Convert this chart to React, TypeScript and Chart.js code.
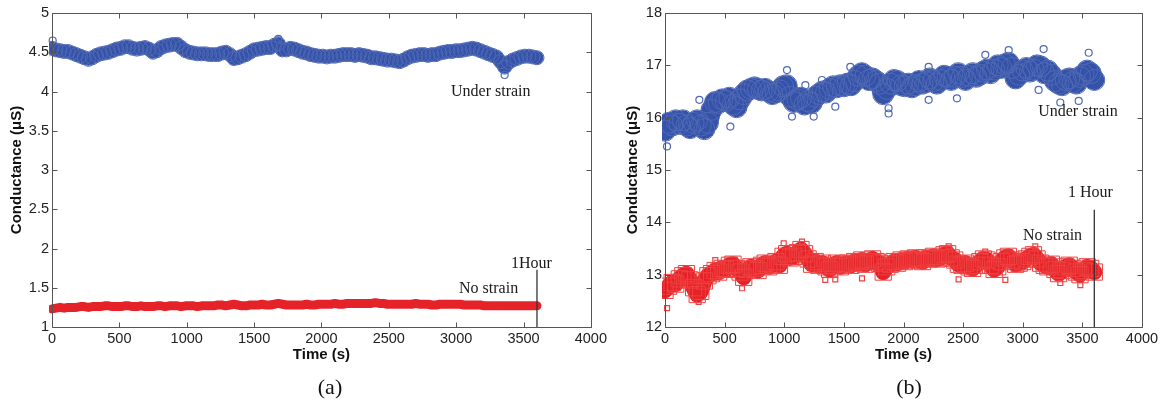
import React, { useEffect, useRef } from "react";
import { Chart, registerables } from "chart.js";

Chart.register(...registerables);

// ---------- data ----------
const TIME = [
  0, 30, 60, 90, 120, 150, 180, 210, 240, 270,
  300, 330, 360, 390, 420, 450, 480, 510, 540, 570,
  600, 630, 660, 690, 720, 750, 780, 810, 840, 870,
  900, 930, 960, 990, 1020, 1050, 1080, 1110, 1140, 1170,
  1200, 1230, 1260, 1290, 1320, 1350, 1380, 1410, 1440, 1470,
  1500, 1530, 1560, 1590, 1620, 1650, 1680, 1710, 1740, 1770,
  1800, 1830, 1860, 1890, 1920, 1950, 1980, 2010, 2040, 2070,
  2100, 2130, 2160, 2190, 2220, 2250, 2280, 2310, 2340, 2370,
  2400, 2430, 2460, 2490, 2520, 2550, 2580, 2610, 2640, 2670,
  2700, 2730, 2760, 2790, 2820, 2850, 2880, 2910, 2940, 2970,
  3000, 3030, 3060, 3090, 3120, 3150, 3180, 3210, 3240, 3270,
  3300, 3330, 3360, 3390, 3420, 3450, 3480, 3510, 3540, 3570,
  3600,
];

// Panel (a) – under strain
const A_UNDER = [
  4.55, 4.53, 4.52, 4.51, 4.51, 4.49, 4.47, 4.45, 4.43, 4.41,
  4.43, 4.46, 4.48, 4.49, 4.50, 4.52, 4.54, 4.55, 4.57, 4.57,
  4.55, 4.54, 4.55, 4.56, 4.54, 4.50, 4.52, 4.56, 4.58, 4.59,
  4.60, 4.60, 4.56, 4.52, 4.50, 4.49, 4.48, 4.48, 4.48, 4.47,
  4.47, 4.47, 4.49, 4.50, 4.47, 4.42, 4.43, 4.45, 4.47, 4.50,
  4.53, 4.54, 4.55, 4.56, 4.56, 4.59, 4.61, 4.53, 4.53, 4.55,
  4.54, 4.52, 4.50, 4.49, 4.47, 4.46, 4.45, 4.45, 4.44, 4.45,
  4.45, 4.46, 4.47, 4.47, 4.47, 4.46, 4.47, 4.46, 4.45, 4.43,
  4.43, 4.42, 4.41, 4.40, 4.40, 4.39, 4.38, 4.40, 4.43, 4.45,
  4.46, 4.47, 4.47, 4.46, 4.47, 4.47, 4.49, 4.50, 4.51, 4.51,
  4.52, 4.52, 4.53, 4.54, 4.55, 4.54, 4.52, 4.50, 4.48, 4.46,
  4.44, 4.38, 4.31, 4.37, 4.40, 4.42, 4.44, 4.45, 4.45, 4.44,
  4.43,
];
// Panel (a) – no strain
const A_NO = [
  1.23, 1.24, 1.25, 1.24, 1.25, 1.25, 1.25, 1.26, 1.26, 1.25,
  1.26, 1.26, 1.26, 1.27, 1.27, 1.26, 1.26, 1.26, 1.27, 1.27,
  1.26, 1.26, 1.27, 1.26, 1.26, 1.26, 1.27, 1.27, 1.26, 1.27,
  1.27, 1.27, 1.26, 1.27, 1.27, 1.27, 1.26, 1.27, 1.27, 1.27,
  1.27, 1.28, 1.28, 1.27, 1.28, 1.29, 1.28, 1.27, 1.27, 1.28,
  1.28, 1.28, 1.29, 1.28, 1.28, 1.29, 1.30, 1.29, 1.28, 1.28,
  1.28, 1.28, 1.28, 1.29, 1.28, 1.28, 1.29, 1.29, 1.29, 1.29,
  1.30, 1.29, 1.29, 1.30, 1.30, 1.30, 1.30, 1.30, 1.30, 1.30,
  1.31, 1.30, 1.30, 1.29, 1.29, 1.29, 1.29, 1.29, 1.29, 1.29,
  1.30, 1.29, 1.29, 1.29, 1.28, 1.28, 1.29, 1.29, 1.29, 1.29,
  1.29, 1.29, 1.28, 1.28, 1.28, 1.28, 1.28, 1.27, 1.27, 1.27,
  1.27, 1.27, 1.27, 1.27, 1.27, 1.27, 1.27, 1.27, 1.27, 1.27,
  1.27,
];
const A_UNDER_OUT_T = [5, 1680, 3360];
const A_UNDER_OUT_V = [4.65, 4.67, 4.21];

// Panel (b) – under strain
const B_UNDER = [
  15.75, 15.90, 15.85, 15.95, 15.88, 15.95, 15.85, 15.80, 15.90, 15.95,
  15.85, 15.78, 15.90, 16.15, 16.30, 16.28, 16.35, 16.32, 16.38, 16.25,
  16.20, 16.35, 16.45, 16.52, 16.55, 16.58, 16.55, 16.52, 16.55, 16.50,
  16.45, 16.48, 16.52, 16.60, 16.62, 16.40, 16.30, 16.35, 16.38, 16.25,
  16.32, 16.28, 16.40, 16.45, 16.50, 16.48, 16.55, 16.60, 16.58, 16.62,
  16.60, 16.65, 16.62, 16.70, 16.80, 16.85, 16.80, 16.72, 16.75, 16.70,
  16.65, 16.45, 16.55, 16.65, 16.72, 16.70, 16.62, 16.60, 16.65, 16.58,
  16.62, 16.70, 16.65, 16.68, 16.75, 16.70, 16.65, 16.72, 16.80, 16.78,
  16.72, 16.78, 16.85, 16.78, 16.72, 16.80, 16.85, 16.78, 16.82, 16.88,
  16.92, 16.85, 16.92, 17.00, 16.95, 17.02, 17.05, 16.95, 16.75, 16.82,
  16.90, 16.95, 16.88, 16.92, 17.00, 16.98, 16.85, 16.90, 16.82, 16.70,
  16.65, 16.62, 16.72, 16.75, 16.68, 16.65, 16.78, 16.82, 16.90, 16.85,
  16.72,
];
// Panel (b) – no strain
const B_NO = [
  12.70, 12.78, 12.85, 12.82, 12.92, 12.98, 13.02, 12.90, 12.75, 12.62,
  12.68, 12.88, 12.98, 13.02, 13.08, 13.05, 13.12, 13.10, 13.18, 13.20,
  13.12, 13.05, 12.95, 13.10, 13.15, 13.12, 13.08, 13.18, 13.22, 13.15,
  13.20, 13.25, 13.18, 13.35, 13.40, 13.32, 13.35, 13.42, 13.48, 13.40,
  13.30, 13.20, 13.25, 13.18, 13.22, 13.15, 13.10, 13.18, 13.22, 13.15,
  13.20, 13.22, 13.18, 13.25, 13.22, 13.28, 13.20, 13.25, 13.30, 13.25,
  13.22, 13.05, 13.15, 13.20, 13.25, 13.22, 13.28, 13.25, 13.30, 13.28,
  13.32, 13.28, 13.25, 13.32, 13.30, 13.35, 13.30, 13.32, 13.38, 13.40,
  13.32, 13.28, 13.20, 13.18, 13.22, 13.15, 13.12, 13.18, 13.25, 13.30,
  13.28, 13.18, 13.10, 13.15, 13.25, 13.32, 13.35, 13.28, 13.20, 13.22,
  13.25, 13.30, 13.35, 13.38, 13.30, 13.22, 13.18, 13.15, 13.20, 13.10,
  13.02, 13.08, 13.15, 13.18, 13.12, 13.05, 13.00, 13.08, 13.15, 13.12,
  13.05,
];
const B_UNDER_OUT_T = [17, 288, 548, 1023, 1065, 1177, 1247, 1316, 1428, 1554, 1875, 1875, 2211, 2211, 2448, 2686, 2882, 3133, 3175, 3315, 3469, 3553];
const B_UNDER_OUT_V = [15.45, 16.34, 15.83, 16.91, 16.02, 16.62, 16.02, 16.72, 16.21, 16.97, 16.18, 16.08, 16.97, 16.34, 16.37, 17.20, 17.29, 16.53, 17.31, 16.29, 16.32, 17.24];
const B_NO_OUT_T = [17, 282, 422, 646, 995, 1149, 1344, 1428, 1652, 2379, 2462, 2686, 2854, 3105, 3315, 3483];
const B_NO_OUT_V = [12.36, 12.48, 13.28, 12.74, 13.60, 13.63, 12.90, 12.91, 12.93, 13.54, 12.91, 13.44, 12.90, 13.54, 12.84, 12.80];

// 1 hour marker (time, from, to)
const HOUR_T = 3600;
const A_HOUR_SPAN = [1.73, 1.0];
const B_HOUR_SPAN = [14.24, 12.0];

// axis ranges / ticks
const X_MIN = 0, X_MAX = 4000, X_STEP = 500;
const A_Y = [1, 5, 0.5];
const B_Y = [12, 18, 1];

// annotations: [text, time, value]
const A_NOTES: [string, number, number][] = [
  ["Under strain", 3257, 4.0],
  ["No strain", 3241, 1.484],
  ["1Hour", 3559, 1.809],
];
const B_NOTES: [string, number, number][] = [
  ["Under strain", 3463, 16.12],
  ["1 Hour", 3568, 14.56],
  ["No strain", 3250, 13.75],
];

// ---------- styles ----------
const BLUE = "#3352A8";
const BLUE_PT = "#5069B5";
const RED = "#E62229";
const RED_PT = "#EE4040";
const AXIS = "#555555";
const SANS = '"Liberation Sans", Arial, sans-serif';
const SERIF = '"Liberation Serif", "Times New Roman", serif';

const pts = (t: number[], v: number[]) => t.map((x, i) => ({ x, y: v[i] }));

const framePlugin = {
  id: "frame",
  afterDatasetsDraw(chart: any) {
    const { ctx, chartArea, scales } = chart;
    const l = Math.round(chartArea.left) + 0.5;
    const r = Math.round(chartArea.right) + 0.5;
    const t = Math.round(chartArea.top) + 0.5;
    const b = Math.round(chartArea.bottom) + 0.5;
    const TL = 5;
    ctx.save();
    ctx.strokeStyle = AXIS;
    ctx.lineWidth = 1;
    ctx.beginPath();
    ctx.rect(l, t, r - l, b - t);
    scales.x.ticks.forEach((tk: any) => {
      const px = Math.round(scales.x.getPixelForValue(tk.value)) + 0.5;
      ctx.moveTo(px, b);
      ctx.lineTo(px, b - TL);
      ctx.moveTo(px, t);
      ctx.lineTo(px, t + TL);
    });
    scales.y.ticks.forEach((tk: any) => {
      const py = Math.round(scales.y.getPixelForValue(tk.value)) + 0.5;
      ctx.moveTo(l, py);
      ctx.lineTo(l + TL, py);
      ctx.moveTo(r, py);
      ctx.lineTo(r - TL, py);
    });
    ctx.stroke();
    ctx.restore();
  },
};

const notesPlugin = {
  id: "notes",
  afterDraw(chart: any, _args: any, opts: any) {
    const { ctx, scales } = chart;
    ctx.save();
    ctx.font = `16px ${SERIF}`;
    ctx.fillStyle = "#1a1a1a";
    ctx.textAlign = "center";
    ctx.textBaseline = "middle";
    (opts.items || []).forEach(([txt, x, y]: [string, number, number]) => {
      ctx.fillText(txt, scales.x.getPixelForValue(x), scales.y.getPixelForValue(y));
    });
    ctx.restore();
  },
};

type PanelCfg = {
  under: number[];
  no: number[];
  underOutT: number[];
  underOutV: number[];
  noOutT: number[];
  noOutV: number[];
  hourSpan: number[];
  yRange: number[];
  notes: [string, number, number][];
  underWidth: number;
  underRing: number;
  noWidth: number;
  noRing: number;
  yAxisWidth: number;
  padRight: number;
  yTitlePad: number;
};

function makeConfig(p: PanelCfg, height: number): any {
  const fmt = (v: any) => String(Number(Number(v).toFixed(2)));
  return {
    type: "line",
    data: {
      datasets: [
        {
          data: [
            { x: HOUR_T, y: p.hourSpan[0] },
            { x: HOUR_T, y: p.hourSpan[1] },
          ],
          borderColor: "#333333",
          borderWidth: 1.3,
          pointRadius: 0,
        },
        {
          data: pts(p.underOutT, p.underOutV),
          showLine: false,
          pointStyle: "circle",
          pointRadius: 3.5,
          pointBorderWidth: 1.2,
          pointBorderColor: BLUE_PT,
          pointBackgroundColor: "rgba(255,255,255,0)",
          clip: 4,
        },
        {
          data: pts(TIME, p.under),
          borderColor: BLUE,
          borderWidth: p.underWidth,
          borderJoinStyle: "round",
          borderCapStyle: "round",
          pointStyle: "circle",
          pointRadius: p.underRing,
          pointBorderWidth: 1,
          pointBorderColor: BLUE_PT,
          pointBackgroundColor: "rgba(255,255,255,0)",
          tension: 0,
          clip: 3,
        },
        {
          data: pts(p.noOutT, p.noOutV),
          showLine: false,
          pointStyle: "rect",
          pointRadius: 3.5,
          pointBorderWidth: 1.2,
          pointBorderColor: RED_PT,
          pointBackgroundColor: "rgba(255,255,255,0)",
          clip: 4,
        },
        {
          data: pts(TIME, p.no),
          borderColor: RED,
          borderWidth: p.noWidth,
          borderJoinStyle: "round",
          borderCapStyle: "round",
          pointStyle: "rect",
          pointRadius: p.noRing,
          pointBorderWidth: 1,
          pointBorderColor: RED_PT,
          pointBackgroundColor: "rgba(255,255,255,0)",
          tension: 0,
          clip: 3,
        },
      ],
    },
    options: {
      responsive: false,
      animation: false,
      events: [],
      layout: { padding: { top: 13, right: p.padRight, left: 0, bottom: 0 } },
      plugins: {
        legend: { display: false },
        tooltip: { enabled: false },
        notes: { items: p.notes },
      },
      scales: {
        x: {
          type: "linear",
          min: X_MIN,
          max: X_MAX,
          grid: { display: false, drawTicks: false },
          border: { display: false },
          ticks: {
            stepSize: X_STEP,
            padding: 3,
            color: "#222",
            font: { family: SANS, size: 14.5 },
            maxRotation: 0,
            autoSkip: false,
            callback: fmt,
          },
          title: {
            display: true,
            text: "Time (s)",
            color: "#111",
            font: { family: SANS, size: 15, weight: "bold" },
            padding: { top: 0, bottom: 6 },
          },
          afterFit: (s: any) => {
            s.height = height - 327;
          },
        },
        y: {
          type: "linear",
          min: p.yRange[0],
          max: p.yRange[1],
          grid: { display: false, drawTicks: false },
          border: { display: false },
          ticks: {
            stepSize: p.yRange[2],
            padding: 3,
            color: "#222",
            font: { family: SANS, size: 14.5 },
            autoSkip: false,
            callback: fmt,
          },
          title: {
            display: true,
            text: "Conductance (μS)",
            color: "#111",
            font: { family: SANS, size: 15, weight: "bold" },
            padding: { top: p.yTitlePad, bottom: 0 },
          },
          afterFit: (s: any) => {
            s.width = p.yAxisWidth;
          },
        },
      },
    },
    plugins: [framePlugin, notesPlugin],
  };
}

function Panel({ left, width, height, cfg }: { left: number; width: number; height: number; cfg: PanelCfg }) {
  const ref = useRef<HTMLCanvasElement | null>(null);
  useEffect(() => {
    if (!ref.current) return;
    const chart = new Chart(ref.current, makeConfig(cfg, height));
    return () => chart.destroy();
  }, []);
  return (
    <canvas
      ref={ref}
      width={width}
      height={height}
      style={{ position: "fixed", left, top: 0, width, height, display: "block" }}
    />
  );
}

const PANEL_A: PanelCfg = {
  under: A_UNDER,
  no: A_NO,
  underOutT: A_UNDER_OUT_T,
  underOutV: A_UNDER_OUT_V,
  noOutT: [],
  noOutV: [],
  hourSpan: A_HOUR_SPAN,
  yRange: A_Y,
  notes: A_NOTES,
  underWidth: 13,
  underRing: 7,
  noWidth: 9,
  noRing: 0,
  yAxisWidth: 52,
  padRight: 18,
  yTitlePad: 8,
};

const PANEL_B: PanelCfg = {
  under: B_UNDER,
  no: B_NO,
  underOutT: B_UNDER_OUT_T,
  underOutV: B_UNDER_OUT_V,
  noOutT: B_NO_OUT_T,
  noOutV: B_NO_OUT_V,
  hourSpan: B_HOUR_SPAN,
  yRange: B_Y,
  notes: B_NOTES,
  underWidth: 20,
  underRing: 10.5,
  noWidth: 16,
  noRing: 11.5,
  yAxisWidth: 55,
  padRight: 21,
  yTitlePad: 14,
};

const capStyle = (x: number): React.CSSProperties => ({
  position: "fixed",
  left: x,
  top: 387,
  transform: "translate(-50%, -50%)",
  font: `22px ${SERIF}`,
  color: "#111",
  lineHeight: 1,
  whiteSpace: "nowrap",
});

export default function App() {
  return (
    <div style={{ background: "#fff" }}>
      <Panel left={0} width={610} height={370} cfg={PANEL_A} />
      <Panel left={610} width={553} height={370} cfg={PANEL_B} />
      <div style={capStyle(330)}>(a)</div>
      <div style={capStyle(909)}>(b)</div>
    </div>
  );
}
